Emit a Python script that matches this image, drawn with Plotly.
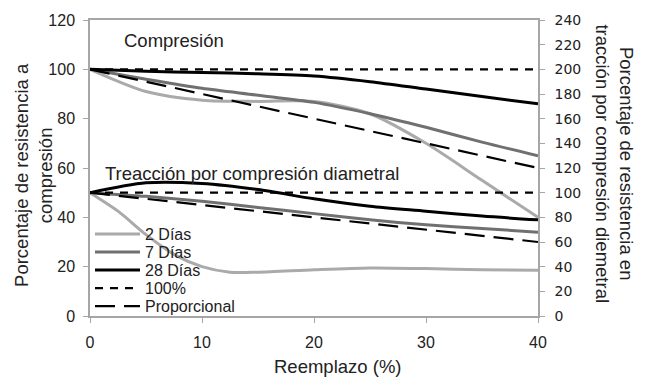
import plotly.graph_objects as go

# Replacement percentage (x)
x_std = [0, 5, 10, 15, 20, 25, 30, 35, 40]
x_line = [0, 40]

# Compression (left axis, %)
comp_2d = [100, 91, 87.5, 87, 87, 82, 70, 55, 40]
comp_7d = [100, 96, 92.3, 89.5, 86.6, 82, 76.5, 70.5, 65]
comp_28d = [100, 99.2, 98.7, 98.2, 97.3, 95, 92, 89, 86]
comp_100 = [100, 100]
comp_prop = [100, 60]

# Splitting tensile (right axis, %)
x_tr2 = [0, 2.5, 5, 7.5, 10, 12.5, 15, 20, 25, 30, 35, 40]
trac_2d = [100, 85, 66, 50, 40, 35.5, 35.5, 37.5, 39, 38.5, 37.5, 37]
trac_7d = [100, 97, 93, 88, 83, 78, 74, 71, 68]
trac_28d = [100, 108, 107.5, 102.5, 95, 89, 85, 81, 78]
trac_100 = [100, 100]
trac_prop = [100, 60]

names = ["2 Días", "7 Días", "28 Días", "100%", "Proporcional"]
c2, c7, c28 = "#aaaaaa", "#707070", "#000000"
font = "Arial, Liberation Sans, sans-serif"
legend_ids = ["legend", "legend2", "legend3", "legend4", "legend5"]

fig = go.Figure()

def add(x, y, i, color, dash, width, axis, show):
    fig.add_trace(go.Scatter(
        x=x, y=y, name=names[i], mode="lines", yaxis=axis, showlegend=show,
        legend=legend_ids[i],
        line=dict(color=color, dash=dash, width=width, shape="spline", smoothing=0.8)))

add(x_std, comp_2d, 0, c2, "solid", 3, "y", True)
add(x_std, comp_7d, 1, c7, "solid", 3, "y", True)
add(x_std, comp_28d, 2, c28, "solid", 3, "y", True)
add(x_line, comp_100, 3, "#000000", "8px,7px", 2.2, "y", True)
add(x_line, comp_prop, 4, "#000000", "20px,9px", 2.2, "y", True)

add(x_tr2, trac_2d, 0, c2, "solid", 3, "y2", False)
add(x_std, trac_7d, 1, c7, "solid", 3, "y2", False)
add(x_std, trac_28d, 2, c28, "solid", 3, "y2", False)
add(x_line, trac_100, 3, "#000000", "8px,7px", 2.2, "y2", False)
add(x_line, trac_prop, 4, "#000000", "20px,9px", 2.2, "y2", False)

axcol = "#a6a6a6"
leg_y = [0.277, 0.216, 0.155, 0.094, 0.033]
legends = {}
for lid, ly in zip(legend_ids, leg_y):
    legends[lid] = dict(x=0.0, y=ly, xanchor="left", yanchor="middle",
                        bgcolor="rgba(0,0,0,0)", font=dict(size=16), itemwidth=45)

fig.update_layout(
    width=647, height=380,
    margin=dict(l=90, r=109, t=13, b=64),
    paper_bgcolor="white", plot_bgcolor="white",
    font=dict(family=font, size=16, color="#222222"),
    xaxis=dict(range=[0, 40], tickvals=[0, 10, 20, 30, 40], showgrid=False, zeroline=False,
               showline=True, linecolor=axcol, linewidth=1.5, mirror=True,
               ticks="outside", ticklen=5, tickcolor=axcol, ticklabelstandoff=6,
               tickfont=dict(size=16)),
    yaxis=dict(range=[0, 120], tickvals=list(range(0, 121, 20)), showgrid=False, zeroline=False,
               showline=True, linecolor=axcol, linewidth=1.5,
               ticks="outside", ticklen=5, tickcolor=axcol, ticklabelstandoff=5,
               tickfont=dict(size=16)),
    yaxis2=dict(range=[0, 240], tickvals=list(range(0, 241, 20)), overlaying="y", side="right",
                showgrid=False, zeroline=False, showline=True, linecolor=axcol, linewidth=1.5,
                ticks="outside", ticklen=5, tickcolor=axcol, ticklabelstandoff=7,
                tickfont=dict(family="DejaVu Sans, Verdana, sans-serif", size=14)),
    showlegend=True,
    **legends,
)

fig.add_annotation(text="Compresión", xref="paper", yref="paper", x=0.071, y=0.93,
                   xanchor="left", yanchor="middle", showarrow=False, font=dict(size=18.5))
fig.add_annotation(text="Treacción por compresión diametral", xref="paper", yref="paper",
                   x=0.03, y=0.482, xanchor="left", yanchor="middle", showarrow=False,
                   font=dict(size=18.5))
fig.add_annotation(text="Reemplazo (%)", xref="paper", yref="paper", x=0.554, y=-0.172,
                   xanchor="center", yanchor="middle", showarrow=False, font=dict(size=18.5))
fig.add_annotation(text="Porcentaje de resistencia a<br>compresión", xref="paper", yref="paper",
                   x=-0.126, y=0.475, xanchor="center", yanchor="middle", textangle=-90,
                   showarrow=False, font=dict(size=18.5))
fig.add_annotation(text="Porcentaje de resistencia en<br>tracción por compresión diemetral",
                   xref="paper", yref="paper", x=1.17, y=0.515, xanchor="center",
                   yanchor="middle", textangle=90, showarrow=False, font=dict(size=18.5))

fig.write_html("out.html", post_script="document.body.style.margin='0';",
               config={"displayModeBar": False})
